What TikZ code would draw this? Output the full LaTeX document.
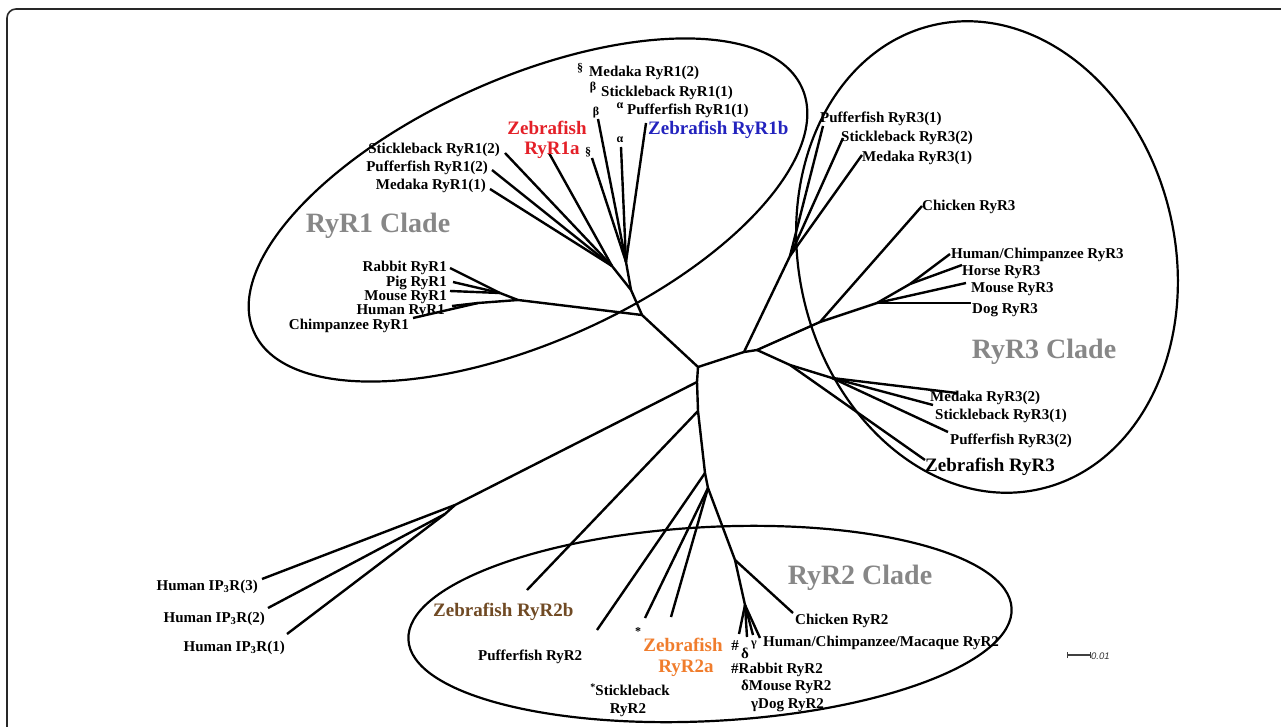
\documentclass[tikz,border=0pt]{standalone}
\usepackage{fontspec}
\setmainfont{Liberation Serif}
\newfontfamily\scalefont{Liberation Sans}
\definecolor{zred}{RGB}{228,32,40}
\definecolor{zblue}{RGB}{35,35,190}
\definecolor{zbrown}{RGB}{112,74,36}
\definecolor{zorange}{RGB}{240,125,45}
\definecolor{cladegray}{RGB}{135,135,135}
\definecolor{framegray}{RGB}{40,40,40}
\begin{document}
\begin{tikzpicture}[x=1pt,y=-1pt,
  br/.style={line width=2.4pt},
  ring/.style={line width=2.2pt},
  lab/.style={font=\fontsize{15}{15}\selectfont\bfseries, inner sep=0pt},
  big/.style={font=\fontsize{19}{19}\selectfont\bfseries, inner sep=0pt},
  mk/.style={font=\fontsize{12}{12}\selectfont\bfseries, inner sep=0pt},
  clade/.style={font=\fontsize{28}{28}\selectfont\bfseries, inner sep=0pt, text=cladegray}]
\useasboundingbox (0,0) rectangle (1281,727);
\clip (0,0) rectangle (1281,727);
% frame
\draw[line width=1.6pt, framegray, rounded corners=9pt] (1300,9) -- (7,9) -- (7,745);
% clade ellipses
\draw[ring, rotate around={24:(528,210)}] (528,210) ellipse [x radius=300, y radius=132];
\draw[ring, rotate around={13:(987,257)}] (987,257) ellipse [x radius=188, y radius=238];
\draw[ring, rotate around={3:(710,624)}] (710,624) ellipse [x radius=302, y radius=97];

% ---------- tree coordinates ----------
\coordinate (N0) at (698,367);
\coordinate (R1) at (642,315);
\coordinate (F1) at (631,290);
\coordinate (LB) at (612,266);
\coordinate (RB) at (626,262);
\coordinate (eSt2) at (505,153);
\coordinate (ePu2) at (492,170);
\coordinate (eMe1) at (490,189);
\coordinate (eZfA) at (549,153);
\coordinate (eSec) at (592,158);
\coordinate (eBeta) at (598,119);
\coordinate (eAlp) at (621,147);
\coordinate (eZfB) at (646,123);
\coordinate (M1) at (518,300);
\coordinate (M1a) at (500,293);
\coordinate (M1b) at (478,303);
\coordinate (eRab) at (450,268);
\coordinate (ePig) at (453,282);
\coordinate (eMou) at (450,291);
\coordinate (eHum) at (452,306);
\coordinate (eChi) at (413,318);

\coordinate (A3a) at (744,352);
\coordinate (A3b) at (757,350);
\coordinate (F3) at (790,256);
\coordinate (ePu31) at (823,126);
\coordinate (eSt32) at (843,138);
\coordinate (eMe31) at (862,155);
\coordinate (B3) at (820,322);
\coordinate (eChR3) at (922,206);
\coordinate (MM3) at (877,303);
\coordinate (H3) at (910,284);
\coordinate (eHC3) at (950,254);
\coordinate (eHo3) at (962,265);
\coordinate (eMo3) at (966,283);
\coordinate (eDo3) at (971,303);
\coordinate (B3b) at (790,365);
\coordinate (C3) at (832,378);
\coordinate (eZf3) at (925,460);
\coordinate (eMe32) at (957,393);
\coordinate (eSt31) at (933,405);
\coordinate (ePu32) at (948,432);

\coordinate (S1) at (697,382);
\coordinate (S2) at (698,411);
\coordinate (S3) at (705,473);
\coordinate (S4) at (708,488);
\coordinate (S5) at (735,560);
\coordinate (MR2) at (745,605);
\coordinate (IP) at (455,505);
\coordinate (IPb) at (445,514);
\coordinate (eIP3) at (262,579);
\coordinate (eIP2) at (268,608);
\coordinate (eIP1) at (287,634);
\coordinate (eZfR2b) at (527,590);
\coordinate (ePuR2) at (597,630);
\coordinate (eStR2) at (645,618);
\coordinate (eZfR2a) at (671,617);
\coordinate (eChR2) at (793,613);
\coordinate (eHash) at (739,634);
\coordinate (eDel) at (747,637);
\coordinate (eGam) at (753,635);
\coordinate (eHCM) at (760,638);

% ---------- branches ----------
% RyR1
\draw[br] (N0) -- (R1) -- (F1);
\draw[br] (F1) -- (LB);
\draw[br] (F1) -- (RB);
\draw[br] (LB) -- (eSt2);
\draw[br] (LB) -- (ePu2);
\draw[br] (LB) -- (eMe1);
\draw[br] (LB) -- (eZfA);
\draw[br] (RB) -- (eSec);
\draw[br] (RB) -- (eBeta);
\draw[br] (RB) -- (eAlp);
\draw[br] (RB) -- (eZfB);
\draw[br] (R1) -- (M1) -- (M1a);
\draw[br] (M1a) -- (eRab);
\draw[br] (M1a) -- (ePig);
\draw[br] (M1a) -- (eMou);
\draw[br] (M1) -- (M1b);
\draw[br] (M1b) -- (eHum);
\draw[br] (M1b) -- (eChi);
% RyR3
\draw[br] (N0) -- (A3a) -- (A3b);
\draw[br] (A3a) -- (F3);
\draw[br] (F3) -- (ePu31);
\draw[br] (F3) -- (eSt32);
\draw[br] (F3) -- (eMe31);
\draw[br] (A3b) -- (B3) -- (eChR3);
\draw[br] (B3) -- (MM3);
\draw[br] (MM3) -- (eDo3);
\draw[br] (MM3) -- (eMo3);
\draw[br] (MM3) -- (H3);
\draw[br] (H3) -- (eHC3);
\draw[br] (H3) -- (eHo3);
\draw[br] (A3b) -- (B3b) -- (eZf3);
\draw[br] (B3b) -- (C3);
\draw[br] (C3) -- (eMe32);
\draw[br] (C3) -- (eSt31);
\draw[br] (C3) -- (ePu32);
% spine, IP3R and RyR2
\draw[br] (N0) -- (S1) -- (S2) -- (S3) -- (S4) -- (S5) -- (MR2);
\draw[br] (S1) -- (IP) -- (eIP3);
\draw[br] (IP) -- (IPb);
\draw[br] (IPb) -- (eIP2);
\draw[br] (IPb) -- (eIP1);
\draw[br] (S2) -- (eZfR2b);
\draw[br] (S3) -- (ePuR2);
\draw[br] (S4) -- (eStR2);
\draw[br] (S4) -- (eZfR2a);
\draw[br] (S5) -- (eChR2);
\draw[br] (MR2) -- (eHash);
\draw[br] (MR2) -- (eDel);
\draw[br] (MR2) -- (eGam);
\draw[br] (MR2) -- (eHCM);

% ---------- labels ----------
% RyR1 clade
\node[mk] (mSec1) at (580,68) {§};
\node[lab, anchor=west] (tMe2) at (589,73) {Medaka RyR1(2)};
\node[mk] (mBeta1) at (593,88) {β};
\node[lab, anchor=west] (tSt1) at (601,93) {Stickleback RyR1(1)};
\node[mk] (mAlp1) at (620,106) {α};
\node[lab, anchor=west] (tPu1) at (627,111) {Pufferfish RyR1(1)};
\node[big, anchor=west, text=zblue] (tZfB) at (648,130) {Zebrafish RyR1b};
\node[big, text=zred] (tZfA1) at (547,128) {Zebrafish};
\node[big, text=zred] (tZfA2) at (552,150) {RyR1a};
\node[mk] (mBeta2) at (596,113) {β};
\node[mk] (mSec2) at (588,152) {§};
\node[mk] (mAlp2) at (620,140) {α};
\node[lab, anchor=east] (tSt2) at (500,150) {Stickleback RyR1(2)};
\node[lab, anchor=east] (tPu2) at (488,168) {Pufferfish RyR1(2)};
\node[lab, anchor=east] (tMe1) at (486,186) {Medaka RyR1(1)};
\node[clade] (c1) at (378,226) {RyR1 Clade};
\node[lab, anchor=east] (tRab) at (447,268) {Rabbit RyR1};
\node[lab, anchor=east] (tPig) at (447,283) {Pig RyR1};
\node[lab, anchor=east] (tMou) at (447,297) {Mouse RyR1};
\node[lab, anchor=east] (tHum) at (445,311) {Human RyR1};
\node[lab, anchor=east] (tChi) at (409,326) {Chimpanzee RyR1};
% RyR3 clade
\node[lab, anchor=west] (tPu31) at (820,119) {Pufferfish RyR3(1)};
\node[lab, anchor=west] (tSt32) at (841,138) {Stickleback RyR3(2)};
\node[lab, anchor=west] (tMe31) at (862,158) {Medaka RyR3(1)};
\node[lab, anchor=west] (tChR3) at (922,207) {Chicken RyR3};
\node[lab, anchor=west] (tHC3) at (951,255) {Human/Chimpanzee RyR3};
\node[lab, anchor=west] (tHo3) at (962,272) {Horse RyR3};
\node[lab, anchor=west] (tMo3) at (971,289) {Mouse RyR3};
\node[lab, anchor=west] (tDo3) at (972,310) {Dog RyR3};
\node[clade] (c3) at (1044,352) {RyR3 Clade};
\node[lab, anchor=west] (tMe32) at (930,398) {Medaka RyR3(2)};
\node[lab, anchor=west] (tSt31) at (935,416) {Stickleback RyR3(1)};
\node[lab, anchor=west] (tPu32) at (950,441) {Pufferfish RyR3(2)};
\node[big, anchor=west] (tZf3) at (925,467) {Zebrafish RyR3};
% IP3R
\node[lab, anchor=east] (tIP3) at (258,587) {Human IP\textsubscript{3}R(3)};
\node[lab, anchor=east] (tIP2) at (265,619) {Human IP\textsubscript{3}R(2)};
\node[lab, anchor=east] (tIP1) at (285,648) {Human IP\textsubscript{3}R(1)};
% RyR2 clade
\node[clade] (c2) at (860,578) {RyR2 Clade};
\node[big, anchor=west, text=zbrown] (tZfR2b) at (433,612) {Zebrafish RyR2b};
\node[lab, anchor=west] (tPuR2) at (478,657) {Pufferfish RyR2};
\node[mk] (mStar1) at (638,632) {*};
\node[big, text=zorange] (tZfR2a1) at (683,645) {Zebrafish};
\node[big, text=zorange] (tZfR2a2) at (686,668) {RyR2a};
\node[lab] (tStR2a) at (630,690) {\raisebox{0.35em}{\fontsize{10}{10}\selectfont *}Stickleback};
\node[lab] (tStR2b) at (628,710) {RyR2};
\node[lab, anchor=west] (tChR2) at (795,621) {Chicken RyR2};
\node[lab] (mHash) at (735,646) {\#};
\node[lab] (mDel) at (745,653) {δ};
\node[mk] (mGam) at (754,645) {γ};
\node[lab, anchor=west] (tHCM) at (763,643) {Human/Chimpanzee/Macaque RyR2};
\node[lab, anchor=west] (tRab2) at (731,670) {\#Rabbit RyR2};
\node[lab, anchor=west] (tMou2) at (741,687) {δMouse RyR2};
\node[lab, anchor=west] (tDog2) at (751,705) {γDog RyR2};

% scale bar
\coordinate (sb1) at (1067,655);
\coordinate (sb2) at (1090,655);
\draw[line width=1.3pt, black!75] (sb1) -- (sb2);
\draw[line width=1pt, black!75] ([yshift=-3pt]sb1) -- ([yshift=3pt]sb1);
\draw[line width=1pt, black!75] ([yshift=-3pt]sb2) -- ([yshift=3pt]sb2);
\node[anchor=west, inner sep=0pt, font=\scalefont\itshape\fontsize{9.5}{9.5}\selectfont, text=black!80] (sbt) at (1091,656) {0.01};
\end{tikzpicture}
\end{document}
